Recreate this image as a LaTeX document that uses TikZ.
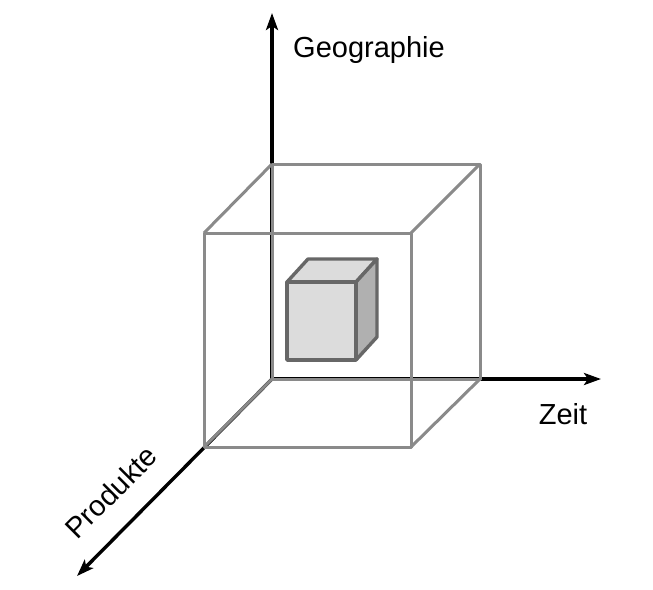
\documentclass[tikz,border=0pt]{standalone}
\usepackage{fontspec}
\setmainfont{Liberation Sans}
\usepackage{xcolor}
\definecolor{cubegray}{HTML}{8A8A8A}
\definecolor{boxedge}{HTML}{676767}
\definecolor{boxface}{HTML}{DCDCDC}
\definecolor{boxside}{HTML}{B0B0B0}
\usepackage{tikz}
\usetikzlibrary{arrows.meta}
\tikzset{
  axisline/.style={line width=3.4pt, black, -{Stealth[length=17pt, width=12pt, inset=4pt]}},
  bigcube/.style={line width=3pt, draw=cubegray, line join=round},
  smallcube/.style={line width=3.4pt, draw=boxedge, line join=round},
  axislabel/.style={font=\fontsize{29}{30}\selectfont, inner sep=0pt},
}

\begin{document}
\begin{tikzpicture}[x=1pt, y=-1pt]
  \useasboundingbox (0,0) rectangle (653,589);
  % axes
  \coordinate (O) at (272,379);
  \coordinate (geo) at (272,13);
  \coordinate (zeit) at (601,379);
  \coordinate (prod) at (77,576);
  \draw[axisline] (O) -- (geo);
  \draw[axisline] (O) -- (zeit);
  \draw[axisline] (O) -- (prod);
  \node[axislabel, anchor=base west] (lgeo) at (293,57) {Geographie};
  \node[axislabel, anchor=base] (lzeit) at (563,424) {Zeit};
  \node[axislabel, rotate=45] (lprod) at (111,492) {Produkte};

  % outer cube
  \draw[bigcube] (272,164) rectangle (480,379);
  \draw[bigcube] (204,233) rectangle (411,447);
  \draw[bigcube] (204,233) -- (272,164);
  \draw[bigcube] (411,233) -- (480,164);
  \draw[bigcube] (411,447) -- (480,379);
  \draw[bigcube] (204,447) -- (272,379);

  % inner cube
  \draw[smallcube, fill=boxface] (287,282) -- (308,259) -- (377,259) -- (356,282) -- cycle;
  \draw[smallcube, fill=boxside] (356,282) -- (377,259) -- (377,337) -- (356,360) -- cycle;
  \draw[smallcube, fill=boxface] (287,282) rectangle (356,360);
\end{tikzpicture}
\end{document}
